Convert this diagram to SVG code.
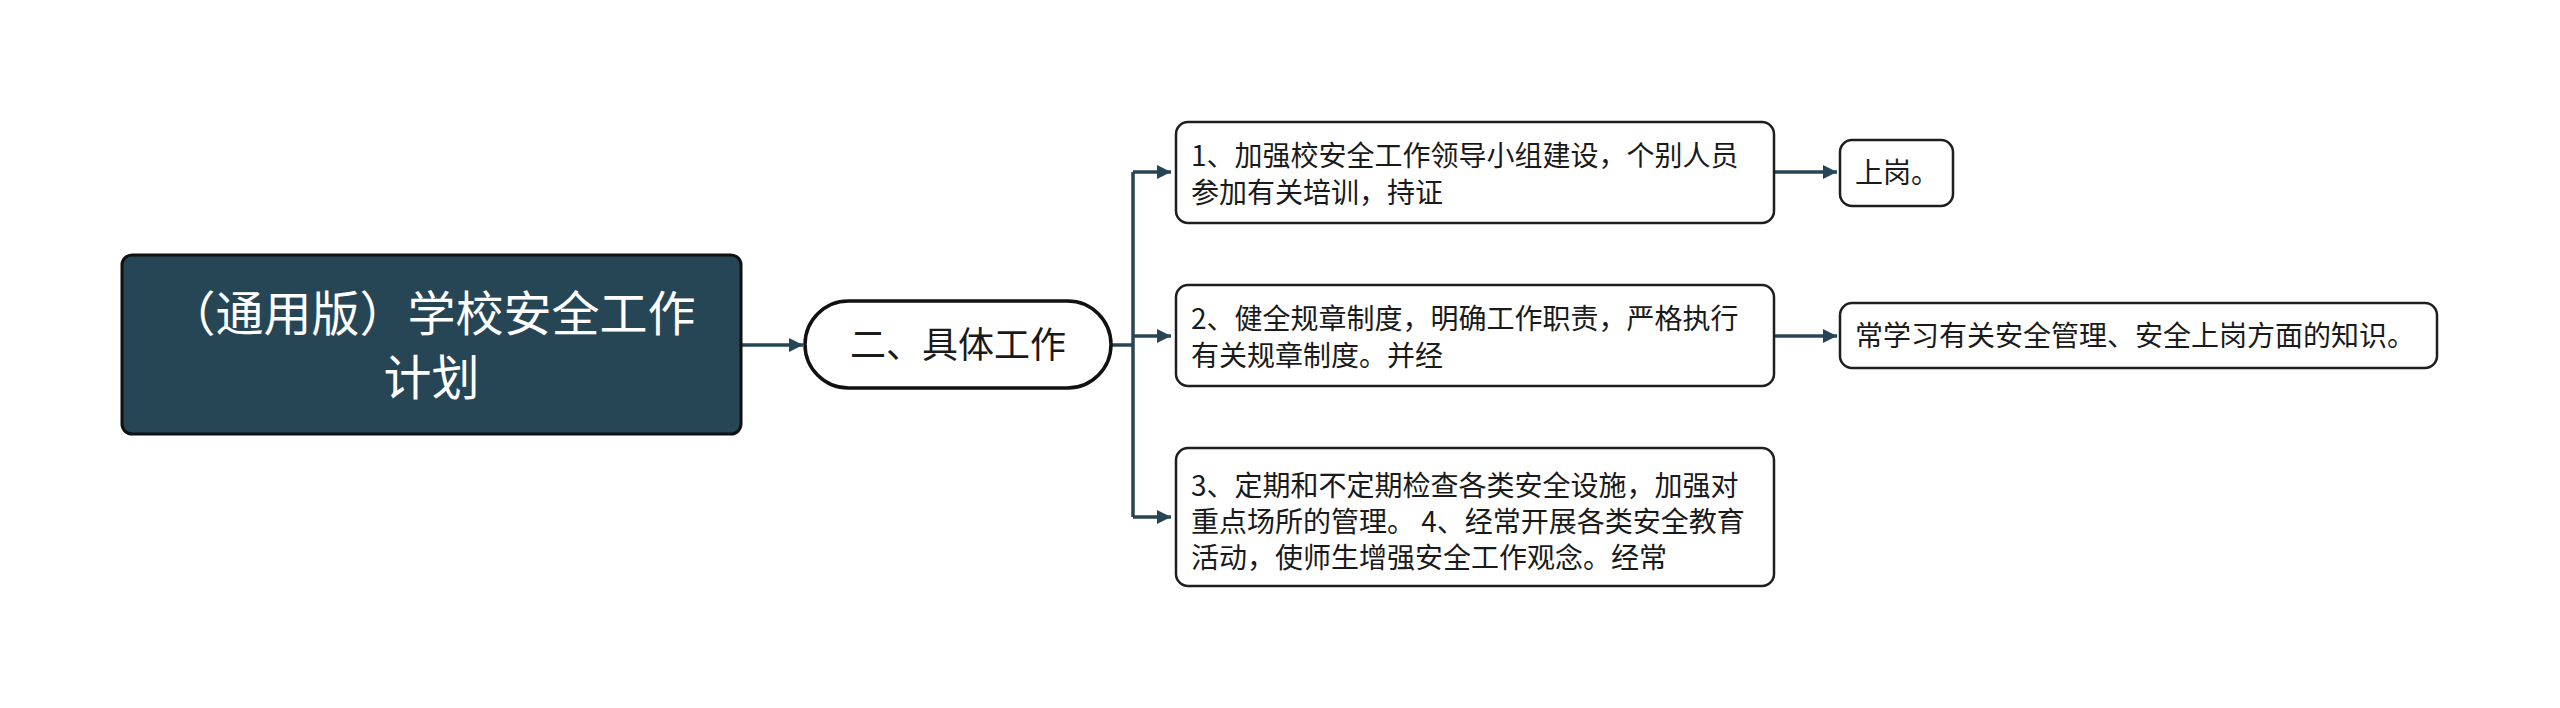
<svg xmlns="http://www.w3.org/2000/svg" width="2560" height="708" viewBox="0 0 2560 708">
<style>
.t{font-family:"Noto Sans CJK SC","Noto Sans",sans-serif;fill:#1a1a1a}
.c{font-size:28px}
.box{fill:#ffffff;stroke:#1e1e1e;stroke-width:2.5}
.ln{fill:none;stroke:#274655;stroke-width:3.5}
</style>
<defs>
<marker id="ah" markerUnits="userSpaceOnUse" markerWidth="14" markerHeight="14" refX="14" refY="7" orient="auto">
<path d="M0,0 L14,7 L0,14 z" fill="#274655"/>
</marker>
</defs>
<rect width="2560" height="708" fill="#ffffff"/>
<g id="connectors">
<path class="ln" d="M741 345 H803" marker-end="url(#ah)"/>
<path class="ln" d="M1111 345 H1133"/>
<path class="ln" d="M1133 172 V517"/>
<path class="ln" d="M1133 172 H1171" marker-end="url(#ah)"/>
<path class="ln" d="M1133 336 H1171" marker-end="url(#ah)"/>
<path class="ln" d="M1133 517 H1171" marker-end="url(#ah)"/>
<path class="ln" d="M1774 172 H1837" marker-end="url(#ah)"/>
<path class="ln" d="M1774 336 H1837" marker-end="url(#ah)"/>
</g>
<g id="root">
<rect x="122" y="255" width="619" height="179" rx="10" fill="#274655" stroke="#111111" stroke-width="3"/>
<text class="t" x="431.5" y="331" font-size="48" text-anchor="middle" style="fill:#ffffff">（通用版）学校安全工作</text>
<text class="t" x="431.5" y="395" font-size="48" text-anchor="middle" style="fill:#ffffff">计划</text>
</g>
<g id="n2">
<rect x="805" y="301" width="306" height="87" rx="43.5" fill="#ffffff" stroke="#111111" stroke-width="3.5"/>
<text class="t" x="958" y="358" font-size="36" text-anchor="middle">二、具体工作</text>
</g>
<g id="c1">
<rect class="box" x="1176" y="122" width="598" height="101" rx="12"/>
<text class="t c" x="1191" y="166">1、加强校安全工作领导小组建设，个别人员</text>
<text class="t c" x="1191" y="203">参加有关培训，持证</text>
</g>
<g id="c2">
<rect class="box" x="1176" y="285" width="598" height="101" rx="12"/>
<text class="t c" x="1191" y="329">2、健全规章制度，明确工作职责，严格执行</text>
<text class="t c" x="1191" y="366">有关规章制度。并经</text>
</g>
<g id="c3">
<rect class="box" x="1176" y="448" width="598" height="138" rx="12"/>
<text class="t c" x="1191" y="496">3、定期和不定期检查各类安全设施，加强对</text>
<text class="t c" x="1191" y="532">重点场所的管理。 4、经常开展各类安全教育</text>
<text class="t c" x="1191" y="568">活动，使师生增强安全工作观念。经常</text>
</g>
<g id="l1">
<rect class="box" x="1840" y="140" width="113" height="66" rx="12"/>
<text class="t c" x="1855" y="183">上岗。</text>
</g>
<g id="l2">
<rect class="box" x="1840" y="303" width="597" height="65" rx="12"/>
<text class="t c" x="1855" y="346">常学习有关安全管理、安全上岗方面的知识。</text>
</g>
</svg>
